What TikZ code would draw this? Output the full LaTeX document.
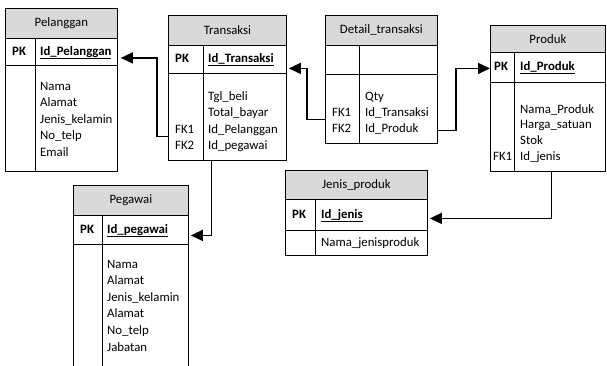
\documentclass[tikz,border=0pt]{standalone}
\usepackage{fontspec}
\setmainfont{Carlito}
\usetikzlibrary{arrows.meta}
\definecolor{hdr}{HTML}{D9D9D9}
\newcommand\ertable[9]{%
  \node[hdrbox, minimum width=#4pt, minimum height=#5pt] (#1) at (#2,#3) {#9};
  \node[cellbox, minimum width=#4pt, minimum height=#6pt] (#1-pk) at (#2,{#3+#5}) {};
  \node[cellbox, minimum width=#4pt, minimum height=#7pt] (#1-body) at (#2,{#3+#5+#6}) {};
  \draw[gridline] ({#2+#8},{#3+#5}) -- ({#2+#8},{#3+#5+#6+#7});
}
\begin{document}
\begin{tikzpicture}[x=1pt,y=-1pt,
  font=\fontsize{12.8}{15}\selectfont,
  hdrbox/.style={draw=black, line width=0.8pt, fill=hdr, anchor=north west, inner sep=0pt},
  cellbox/.style={draw=black, line width=0.8pt, anchor=north west, inner sep=0pt},
  gridline/.style={draw=black, line width=0.8pt},
  txt/.style={anchor=west, inner sep=0pt, text height=8.5pt, text depth=2.5pt},
  conn/.style={line width=1.5pt, -{Triangle[length=12pt,width=11pt]}},
]
\useasboundingbox (0,0) rectangle (607,365);

% tables: name, L, T, W, title h, pk h, body h, divider offset, title
\ertable{pel}{5}{8}{112}{30}{27}{106}{30}{Pelanggan}
\ertable{tra}{168}{15}{118}{30}{28}{87}{35}{Transaksi}
\ertable{det}{325}{15}{112}{30}{29}{69}{34}{Detail\_transaksi}
\ertable{pro}{490}{25}{115}{27}{30}{89}{24}{Produk}
\ertable{jen}{285}{170}{142}{29}{31}{25}{30}{Jenis\_produk}
\ertable{peg}{73}{185}{115}{30}{29}{140}{29}{Pegawai}

% Pelanggan
\node[txt] (pel-pkl) at (12,52) {\textbf{PK}};
\node[txt] (pel-id) at (40,52) {\textbf{\underline{Id\_Pelanggan}}};
\foreach \t [count=\i from 0] in {Nama,Alamat,Jenis\_kelamin,No\_telp,Email}
  \node[txt] (pel-f\i) at (40,{87+16.6*\i}) {\t};

% Transaksi
\node[txt] (tra-pkl) at (175,59) {\textbf{PK}};
\node[txt] (tra-id) at (208,59) {\textbf{\underline{Id\_Transaksi}}};
\foreach \t [count=\i from 0] in {Tgl\_beli,Total\_bayar,Id\_Pelanggan,Id\_pegawai}
  \node[txt] (tra-f\i) at (208,{97+16.5*\i}) {\t};
\node[txt] (tra-fk1) at (175,130) {FK1};
\node[txt] (tra-fk2) at (175,146.5) {FK2};

% Detail_transaksi
\foreach \t [count=\i from 0] in {Qty,Id\_Transaksi,Id\_Produk}
  \node[txt] (det-f\i) at (365,{97+16.3*\i}) {\t};
\node[txt] (det-fk1) at (332,113.3) {FK1};
\node[txt] (det-fk2) at (332,129.6) {FK2};

% Produk
\node[txt] (pro-pkl) at (494,67) {\textbf{PK}};
\node[txt] (pro-id) at (520,67) {\textbf{\underline{Id\_Produk}}};
\foreach \t [count=\i from 0] in {Nama\_Produk,Harga\_satuan,Stok,Id\_jenis}
  \node[txt] (pro-f\i) at (520,{110+15.8*\i}) {\t};
\node[txt] (pro-fk1) at (493,157.4) {FK1};

% Jenis_produk
\node[txt] (jen-pkl) at (292,215) {\textbf{PK}};
\node[txt] (jen-id) at (321,215) {\textbf{\underline{Id\_jenis}}};
\node[txt] (jen-f0) at (321,243) {Nama\_jenisproduk};

% Pegawai
\node[txt] (peg-pkl) at (80,230) {\textbf{PK}};
\node[txt] (peg-id) at (107,230) {\textbf{\underline{Id\_pegawai}}};
\foreach \t [count=\i from 0] in {Nama,Alamat,Jenis\_kelamin,Alamat,No\_telp,Jabatan}
  \node[txt] (peg-f\i) at (107,{265+16.6*\i}) {\t};

% connectors
\draw[conn] ([yshift=-19.5pt]tra-body.west) -- ++(-11,0) |- ([xshift=3pt,yshift=-6pt]pel-pk.east);
\draw[conn] ([yshift=-10.5pt]det-body.west) -- ++(-18,0) |- ([xshift=2pt,yshift=-9pt]tra-pk.east);
\draw[conn] ([xshift=-16pt]tra-body.south) |- ([xshift=2pt,yshift=-5.5pt]peg-pk.east);
\draw[conn] ([yshift=-21.5pt]det-body.east) -- ++(18,0) |- ([yshift=-1pt]pro-pk.west);
\draw[conn] ([xshift=3.5pt]pro-body.south) |- ([xshift=2pt,yshift=-3.5pt]jen-pk.east);
\end{tikzpicture}
\end{document}
